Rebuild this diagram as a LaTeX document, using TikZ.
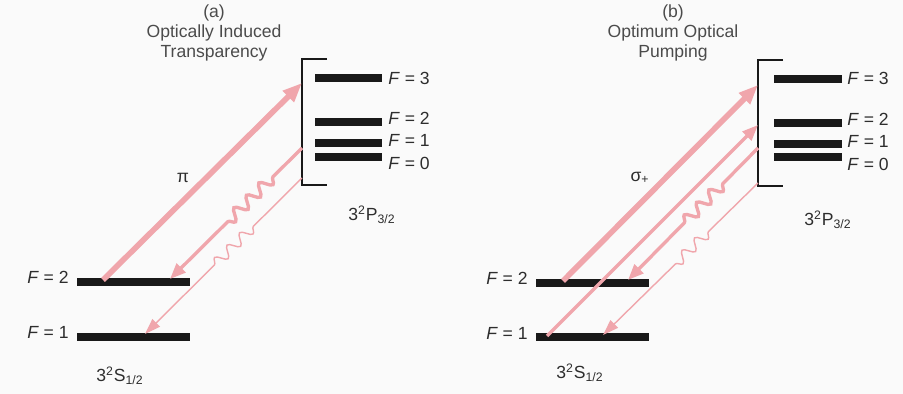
\documentclass[tikz,border=0pt]{standalone}
\usepackage{fontspec}
\setmainfont{Liberation Sans}
\usepackage{tikz}
\usetikzlibrary{positioning,arrows.meta,calc,decorations.pathmorphing}
\definecolor{beampink}{RGB}{240,166,172}
\definecolor{levelblack}{RGB}{25,25,25}
\definecolor{titlegray}{RGB}{75,75,75}
\definecolor{labelgray}{RGB}{45,45,45}
\definecolor{paperbg}{RGB}{250,250,250}
\begin{document}
\begin{tikzpicture}[x=0.02cm,y=-0.02cm,
    title/.style={align=center,font=\fontsize{10}{11.6}\selectfont,text=titlegray},
    ulevel/.style={fill=levelblack,minimum width=1.36cm,minimum height=4.2pt,inner sep=0pt},
    glevel/.style={fill=levelblack,minimum width=2.28cm,minimum height=4.2pt,inner sep=0pt},
    flabel/.style={font=\fontsize{10}{12}\selectfont,text=labelgray,inner sep=0pt},
    term/.style={font=\fontsize{10}{12}\selectfont,text=labelgray},
    bracket/.style={draw=levelblack,line width=1.2pt},
    pumpthick/.style={draw=beampink,line width=3.2pt,-{Triangle[length=11pt,width=8.5pt]}},
    pumpmid/.style={draw=beampink,line width=1.9pt,-{Triangle[length=9pt,width=7pt]}},
    decaymid/.style={draw=beampink,line width=1.9pt,-{Triangle[length=9pt,width=7pt]},
      decoration={snake,amplitude=3.2pt,segment length=10pt}},
    decaythin/.style={draw=beampink,line width=0.8pt,-{Triangle[length=9pt,width=6pt]},
      decoration={snake,amplitude=3pt,segment length=10pt}}]
  \fill[paperbg] (0,0) rectangle (903,394);
  \useasboundingbox (0,0) rectangle (903,394);
  % (a) optically induced transparency
  \node[title] (ta) at (214,33) {(a)\\Optically Induced\\Transparency};
  \draw[bracket] (327,59) -- (302,59) -- (302,185) -- (327,185);
  \foreach \n/\f/\y/\ly in {a3/3/78/78,a2/2/122/118,a1/1/143/140,a0/0/157/163}{
    \node[ulevel] (\n) at (348.5,\y) {};
    \node[flabel,anchor=west] (l\n) at (388,\ly) {\textit{F} = \f};
  }
  \node[glevel] (ag2) at (133.5,282) {};
  \node[glevel] (ag1) at (133.5,337) {};
  \node[flabel,anchor=east] (lag2) at (69,277) {\textit{F} = 2};
  \node[flabel,anchor=east] (lag1) at (69,332) {\textit{F} = 1};
  \node[term] (pa) at (372,215) {3\textsuperscript{2}P\textsubscript{3/2}};
  \node[term] (sa) at (120,376) {3\textsuperscript{2}S\textsubscript{1/2}};
  \coordinate (ua) at (103,280);
  \coordinate (ut) at (302,83);
  \coordinate (da) at (302,148);
  \coordinate (db) at (170,279);
  \coordinate (ea) at (302,178);
  \coordinate (eb) at (145,334);
  \draw[pumpthick] (ua) -- (ut);
  \draw[decaymid] (da) -- ($(da)!.22!(db)$) decorate {-- ($(da)!.57!(db)$)} -- (db);
  \draw[decaythin] (ea) -- ($(ea)!.31!(eb)$) decorate {-- ($(ea)!.57!(eb)$)} -- (eb);
  \node[term] (pi) at (183,178) {π};
  % (b) optimum optical pumping
  \node[title] (tb) at (673,33) {(b)\\Optimum Optical\\Pumping};
  \draw[bracket] (783,60) -- (758,60) -- (758,186) -- (783,186);
  \foreach \n/\f/\y/\ly in {b3/3/79/78,b2/2/123/119,b1/1/144/141,b0/0/157/164}{
    \node[ulevel] (\n) at (807.5,\y) {};
    \node[flabel,anchor=west] (l\n) at (847,\ly) {\textit{F} = \f};
  }
  \node[glevel] (bg2) at (592.5,283) {};
  \node[glevel] (bg1) at (592.5,337) {};
  \node[flabel,anchor=east] (lbg2) at (528,278) {\textit{F} = 2};
  \node[flabel,anchor=east] (lbg1) at (528,333) {\textit{F} = 1};
  \node[term] (pb) at (828,220) {3\textsuperscript{2}P\textsubscript{3/2}};
  \node[term] (sb) at (580,373) {3\textsuperscript{2}S\textsubscript{1/2}};
  \coordinate (va) at (563,281);
  \coordinate (vt) at (758,85);
  \coordinate (wa) at (547,336);
  \coordinate (wt) at (758,125);
  \coordinate (fa) at (758,148);
  \coordinate (fb) at (628,280);
  \coordinate (ga) at (758,183);
  \coordinate (gb) at (603,335);
  \draw[pumpthick] (va) -- (vt);
  \draw[pumpmid] (wa) -- (wt);
  \draw[decaymid] (fa) -- ($(fa)!.27!(fb)$) decorate {-- ($(fa)!.6!(fb)$)} -- (fb);
  \draw[decaythin] (ga) -- ($(ga)!.32!(gb)$) decorate {-- ($(ga)!.55!(gb)$)} -- (gb);
  \node[term] (sg) at (640,178) {σ\textsubscript{+}};
\end{tikzpicture}
\end{document}
